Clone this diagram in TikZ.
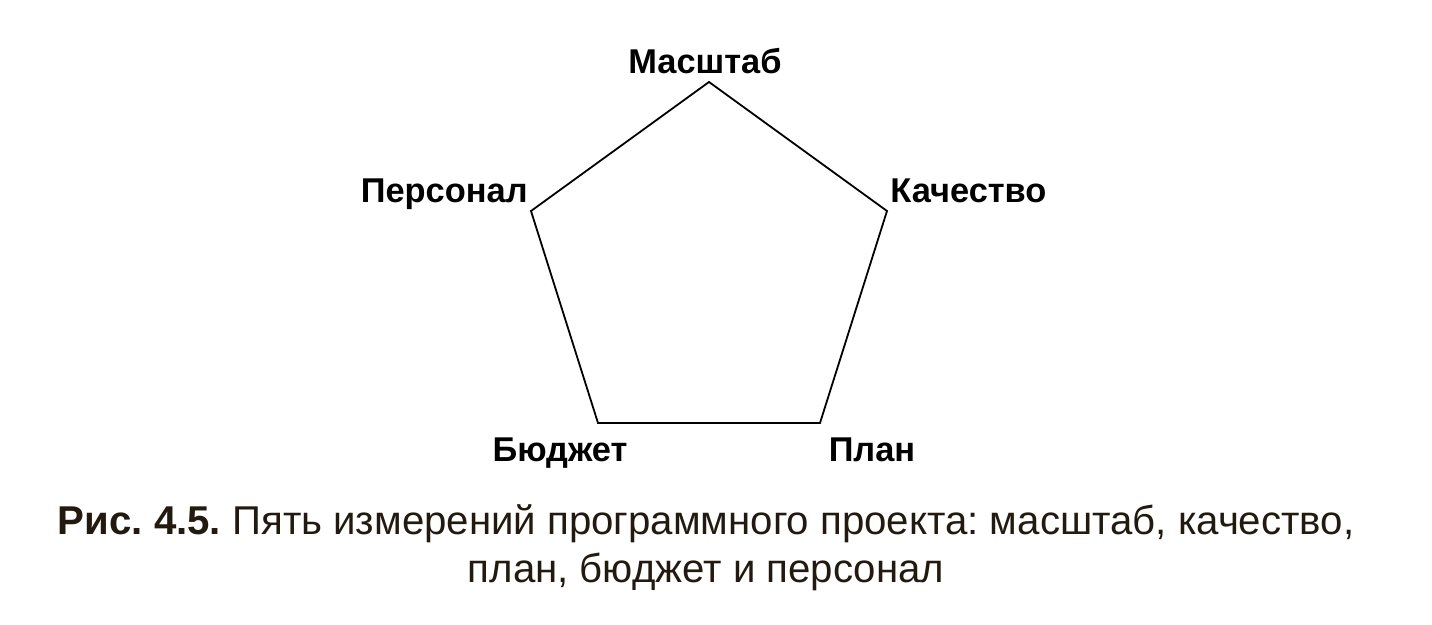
\documentclass[tikz,border=0pt]{standalone}
\usepackage{fontspec}
\setmainfont{Liberation Sans}
\usetikzlibrary{positioning}
\definecolor{captionbrown}{HTML}{231A0F}

\begin{document}
\frenchspacing
\begin{tikzpicture}[x=0.5pt,y=-0.5pt,font=\fontsize{17.2}{20}\selectfont\bfseries]
    \tikzstyle{dim}=[inner sep=2pt,text height=12.5pt,text depth=3.5pt]
    \useasboundingbox (0,0) rectangle (1432,625);
    \coordinate (scope) at (709,82);
    \coordinate (quality) at (887,211);
    \coordinate (plan) at (820,423);
    \coordinate (budget) at (598,423);
    \coordinate (staff) at (531,211);
    \draw [line width=0.9pt,line join=miter] (scope) -- (quality) -- (plan) -- (budget) -- (staff) -- cycle;
    \node [dim,anchor=south] (scopelbl) at ([xshift=-2pt,yshift=-1.5pt]scope) {Масштаб};
    \node [dim,anchor=south west] (qualitylbl) at ([xshift=-0.5pt,yshift=-1.5pt]quality) {Качество};
    \node [dim,anchor=south east] (stafflbl) at ([xshift=0.5pt,yshift=-1.5pt]staff) {Персонал};
    \node [dim,anchor=north] (budgetlbl) at ([xshift=-19pt,yshift=-4.5pt]budget) {Бюджет};
    \node [dim,anchor=north] (planlbl) at ([xshift=26pt,yshift=-4.5pt]plan) {План};
    \node [align=center,font=\fontsize{20.1}{24}\selectfont,text=captionbrown,anchor=base] (caption) at (706,583)
      {\textbf{Рис. 4.5.} Пять измерений программного проекта: масштаб, качество,\\план, бюджет и персонал};
\end{tikzpicture}
\end{document}
